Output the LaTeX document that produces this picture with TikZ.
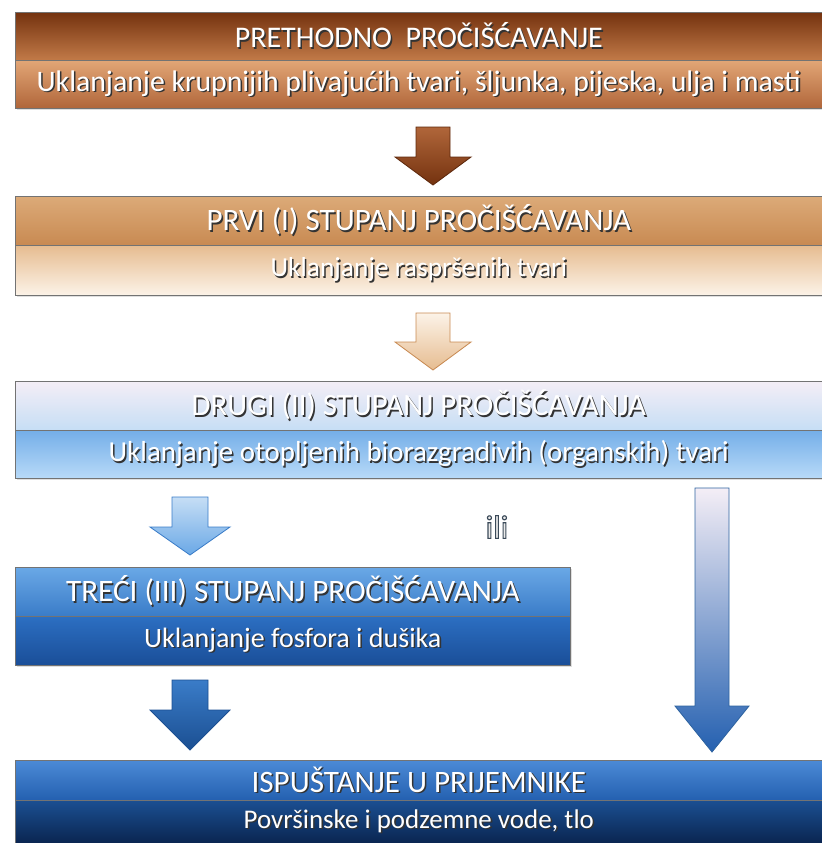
\documentclass[tikz,border=0pt]{standalone}
\usepackage{fontspec}
\setmainfont{Carlito}
\newfontfamily\ilifont[FakeBold=3.5]{Carlito}
\usetikzlibrary{shadows}
\definecolor{brA}{HTML}{74320F}
\definecolor{brB}{HTML}{C27A48}
\definecolor{brC}{HTML}{E2A676}
\definecolor{brD}{HTML}{B0663A}
\definecolor{tnA}{HTML}{DCAA78}
\definecolor{tnB}{HTML}{C88A52}
\definecolor{tnC}{HTML}{E6BC90}
\definecolor{tnD}{HTML}{FCF3E8}
\definecolor{lbA}{HTML}{F4EEF6}
\definecolor{lbB}{HTML}{C6DEF5}
\definecolor{lbC}{HTML}{74AEE8}
\definecolor{lbD}{HTML}{B8DAF8}
\definecolor{mbA}{HTML}{6AA8E6}
\definecolor{mbB}{HTML}{3A7CC8}
\definecolor{mbC}{HTML}{2C6FC2}
\definecolor{mbD}{HTML}{1A4E98}
\definecolor{dbA}{HTML}{4C8AD6}
\definecolor{dbB}{HTML}{2460B0}
\definecolor{dbC}{HTML}{1B4F92}
\definecolor{dbD}{HTML}{0A2550}
\newcommand\shd[1]{\leavevmode\rlap{\hspace{1.3pt}\raisebox{-1.3pt}{\color{black!80}#1}}#1}
% block arrow: style, start coordinate, length, shaft half width, head half width, head length
\newcommand\barrow[6]{\draw[#1] (#2) +({-#4},0) -- +({-#4},{#3-#6}) -- +({-#5},{#3-#6}) -- +(0,#3) -- +(#5,{#3-#6}) -- +(#4,{#3-#6}) -- +(#4,0) -- cycle;}
\newcommand\fs[1]{\fontsize{#1}{#1}\selectfont}
\begin{document}
\begin{tikzpicture}[x=0.03cm,y=-0.03cm,
  row/.style={rectangle, inner sep=0pt, anchor=north west, draw=black!55, line width=0.5pt,
    text=white,
    drop shadow={opacity=0.25, shadow xshift=1.5pt, shadow yshift=-1.5pt}},
  wide/.style={minimum width=24.21cm},
  narrow/.style={minimum width=16.65cm},
  arr/.style={line width=0.7pt, line join=miter}]
\useasboundingbox (0,0) rectangle (822,843);

% box 1
\node[row, wide, minimum height=1.44cm, top color=brA, bottom color=brB, font=\fs{25.6pt}] (b1h) at (15,12) {\shd{PRETHODNO\ \ PROČIŠĆAVANJE}};
\node[row, wide, minimum height=1.44cm, top color=brC, bottom color=brD, font=\fs{25.4pt}] (b1s) at (15,60) {\shd{Uklanjanje krupnijih plivajućih tvari, šljunka, pijeska, ulja i masti}};
% box 2
\node[row, wide, minimum height=1.47cm, top color=tnA, bottom color=tnB, font=\fs{26.6pt}] (b2h) at (15,196) {\shd{PRVI (I) STUPANJ PROČIŠĆAVANJA}};
\node[row, wide, minimum height=1.5cm, top color=tnC, bottom color=tnD, font=\fs{23.4pt}] (b2s) at (15,245) {\shd{Uklanjanje raspršenih tvari}};
% box 3
\node[row, wide, minimum height=1.47cm, top color=lbA, bottom color=lbB, font=\fs{26.4pt}] (b3h) at (15,381) {\shd{DRUGI (II) STUPANJ PROČIŠĆAVANJA}};
\node[row, wide, minimum height=1.44cm, top color=lbC, bottom color=lbD, font=\fs{24.7pt}] (b3s) at (15,430) {\shd{Uklanjanje otopljenih biorazgradivih (organskih) tvari}};
% box 4
\node[row, narrow, minimum height=1.47cm, top color=mbA, bottom color=mbB, font=\fs{26.6pt}] (b4h) at (15,567) {\shd{TREĆI (III) STUPANJ PROČIŠĆAVANJA}};
\node[row, narrow, minimum height=1.47cm, top color=mbC, bottom color=mbD, font=\fs{23.9pt}] (b4s) at (15,616) {\shd{Uklanjanje fosfora i dušika}};
% box 5
\node[row, wide, minimum height=1.2cm, top color=dbA, bottom color=dbB, font=\fs{26.6pt}] (b5h) at (15,760) {\shd{ISPUŠTANJE U PRIJEMNIKE}};
\node[row, wide, minimum height=1.29cm, top color=dbC, bottom color=dbD, font=\fs{23pt}] (b5s) at (15,800) {\shd{Površinske i podzemne vode, tlo}};

% arrows
\coordinate (a1) at (433,127);
\coordinate (a2) at (433,313);
\coordinate (a3) at (190,497);
\coordinate (a4) at (712,488);
\coordinate (a5) at (190,680);
\barrow{arr, draw=brA!80!black, top color=brD, bottom color=brA}{a1}{58}{17}{38}{28}
\barrow{arr, draw=tnB, top color=tnD, bottom color=tnC}{a2}{57}{17}{38}{28}
\barrow{arr, draw=mbB, top color=lbB, bottom color=mbA}{a3}{58}{18}{40}{28}
\barrow{arr, draw=mbB!80!black, top color=lbA, bottom color=dbB}{a4}{264}{17}{37}{46}
\barrow{arr, draw=dbC, top color=mbB, bottom color=dbC}{a5}{70}{18}{40}{40}

\node[font=\fs{28pt}, inner sep=0pt] (ili) at (497,527) {\ilifont\special{pdf:literal direct 0.92 g 0.23 0.29 0.35 RG}ili};
\end{tikzpicture}
\end{document}
